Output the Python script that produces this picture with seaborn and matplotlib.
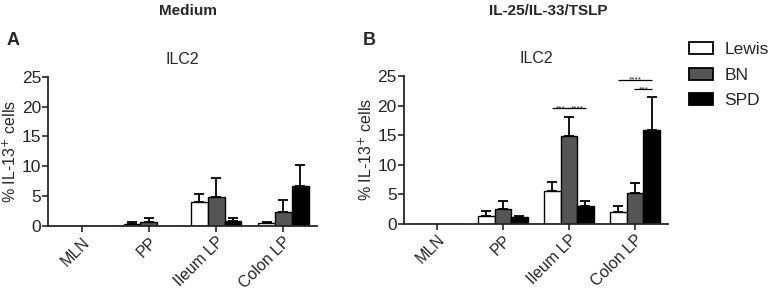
import numpy as np
import pandas as pd
import seaborn as sns
import matplotlib.pyplot as plt
from matplotlib.patches import Patch

# data
tissues = ["MLN", "PP", "Ileum LP", "Colon LP"]
strains = ["Lewis", "BN", "SPD"]
colors = ["white", "#555555", "black"]

# panel A: Medium
med_lewis = [0.0, 0.4, 4.0, 0.5]
med_bn = [0.0, 0.7, 4.9, 2.4]
med_spd = [0.0, 0.0, 0.9, 6.7]
med_lewis_err = [0.0, 0.3, 1.4, 0.2]
med_bn_err = [0.0, 0.7, 3.2, 2.0]
med_spd_err = [0.0, 0.0, 0.4, 3.5]

# panel B: IL-25/IL-33/TSLP
stim_lewis = [0.0, 1.3, 5.6, 2.0]
stim_bn = [0.0, 2.5, 14.9, 5.2]
stim_spd = [0.0, 1.2, 3.0, 15.9]
stim_lewis_err = [0.0, 0.8, 1.5, 1.0]
stim_bn_err = [0.0, 1.3, 3.1, 1.7]
stim_spd_err = [0.0, 0.2, 0.8, 5.6]

# significance: (tissue, strain1, strain2, height, label)
stim_sig = [("Ileum LP", "Lewis", "BN", 19.6, "***"),
            ("Ileum LP", "BN", "SPD", 19.6, "****"),
            ("Colon LP", "Lewis", "SPD", 24.4, "****"),
            ("Colon LP", "BN", "SPD", 22.8, "***")]

sns.set_style("ticks")
plt.rcParams['font.family'] = ['Liberation Sans', 'DejaVu Sans']


def make_df(lewis, bn, spd, lewis_err, bn_err, spd_err):
    rows = []
    for s, vals, errs in zip(strains, [lewis, bn, spd], [lewis_err, bn_err, spd_err]):
        for t, v, e in zip(tissues, vals, errs):
            rows.append({"tissue": t, "strain": s, "value": v, "err": e})
    return pd.DataFrame(rows)


def draw_panel(ax, df, sig=None):
    sns.barplot(data=df, x="tissue", y="value", hue="strain", order=tissues,
                hue_order=strains, palette=colors, edgecolor="black",
                linewidth=1.0, width=0.75, errorbar=None, legend=False, ax=ax)
    centers = {}
    for i, s in enumerate(strains):
        cont = ax.containers[i]
        sub = df[df.strain == s].set_index("tissue").loc[tissues]
        for bar, t in zip(cont, tissues):
            xc = bar.get_x() + bar.get_width() / 2
            centers[(t, s)] = xc
            v = sub.loc[t, "value"]
            e = sub.loc[t, "err"]
            if e > 0:
                ax.errorbar(xc, v, yerr=[[0], [e]], fmt="none", ecolor="black",
                            elinewidth=1.3, capsize=3.5, capthick=1.3, zorder=1)
    if sig:
        for t, s1, s2, h, lab in sig:
            x1 = centers[(t, s1)] - 0.04
            x2 = centers[(t, s2)] + 0.04
            ax.plot([x1 + 0.03, x2 - 0.03], [h, h], color="black", lw=0.9,
                    solid_capstyle="butt", clip_on=False)
            ax.text((x1 + x2) / 2, h - 0.7, lab, ha="center", va="bottom",
                    fontsize=6, clip_on=False)
    ax.set_ylim(0, 25)
    ax.set_xlim(-0.5, 3.5)
    ax.set_yticks([0, 5, 10, 15, 20, 25])
    ax.set_xlabel("")
    ax.set_ylabel("% IL-13$^{+}$ cells", fontsize=11.5, labelpad=2)
    ax.set_title("ILC2", fontsize=11.5, pad=9)
    ax.tick_params(axis="y", labelsize=12.5, length=4, width=1.2, pad=1)
    ax.tick_params(axis="x", labelsize=11.5, length=4, width=1.2, pad=2)
    plt.setp(ax.get_xticklabels(), rotation=45, ha="right", rotation_mode="anchor")
    for sp in ["left", "bottom"]:
        ax.spines[sp].set_linewidth(1.3)
    sns.despine(ax=ax)


fig = plt.figure(figsize=(7.75, 2.9), dpi=100)
ax1 = fig.add_axes([0.062, 0.221, 0.347, 0.514])
ax2 = fig.add_axes([0.521, 0.228, 0.341, 0.510])

df_med = make_df(med_lewis, med_bn, med_spd, med_lewis_err, med_bn_err, med_spd_err)
df_stim = make_df(stim_lewis, stim_bn, stim_spd, stim_lewis_err, stim_bn_err, stim_spd_err)
draw_panel(ax1, df_med)
draw_panel(ax2, df_stim, stim_sig)

fig.text(0.243, 0.962, "Medium", ha="center", va="center", fontsize=11, fontweight="bold")
fig.text(0.707, 0.962, "IL-25/IL-33/TSLP", ha="center", va="center", fontsize=11, fontweight="bold")
fig.text(0.008, 0.862, "A", ha="left", va="center", fontsize=13, fontweight="bold")
fig.text(0.468, 0.862, "B", ha="left", va="center", fontsize=13, fontweight="bold")

handles = [Patch(facecolor=c, edgecolor="black", linewidth=1.3) for c in colors]
fig.legend(handles, strains, loc="upper left", bbox_to_anchor=(0.889, 0.855),
           frameon=False, fontsize=12.5, handlelength=1.4, handleheight=0.7,
           handletextpad=0.65, labelspacing=0.6, borderaxespad=0, borderpad=0)

fig.savefig("out.png", dpi=100)
plt.close()
